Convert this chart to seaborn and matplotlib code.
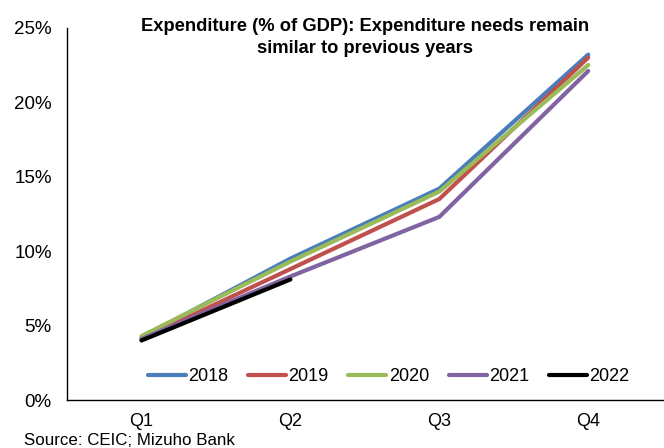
import matplotlib
matplotlib.use("Agg")
import matplotlib.pyplot as plt
import seaborn as sns
import pandas as pd
import numpy as np
from matplotlib.ticker import FuncFormatter, FixedLocator

quarters = ["Q1", "Q2", "Q3", "Q4"]
y2018 = [4.2, 9.5, 14.2, 23.2]
y2019 = [4.1, 8.8, 13.5, 23.0]
y2020 = [4.3, 9.3, 14.0, 22.5]
y2021 = [4.1, 8.3, 12.3, 22.1]
y2022 = [4.0, 8.1]
years = ["2018", "2019", "2020", "2021", "2022"]
colors = ["#4a7ebb", "#c0504d", "#9bbb59", "#8064a2", "#000000"]

rows = []
for yr, vals in zip(years, [y2018, y2019, y2020, y2021, y2022]):
    for i, v in enumerate(vals):
        rows.append({"Quarter": i, "Value": v, "Year": yr})
df = pd.DataFrame(rows)

sns.set_style("white")
plt.rcParams['font.family'] = ['Liberation Sans', 'DejaVu Sans']
plt.rcParams['text.color'] = 'black'
plt.rcParams['xtick.color'] = 'black'
plt.rcParams['ytick.color'] = 'black'

fig = plt.figure(figsize=(6.64, 4.48), dpi=100)
ax = fig.add_axes([0.101, 0.107, 0.897, 0.831])

sns.lineplot(data=df, x="Quarter", y="Value", hue="Year", palette=colors,
             linewidth=3, ax=ax, legend=True)

ax.set_xlim(-0.5, 3.5)
ax.set_ylim(0, 25)
ax.set_yticks([0, 5, 10, 15, 20, 25])
ax.yaxis.set_major_formatter(FuncFormatter(lambda v, p: f"{v:.0f}%"))
ax.xaxis.set_major_locator(FixedLocator([-0.5, 0.5, 1.5, 2.5, 3.5]))
ax.xaxis.set_major_formatter(FuncFormatter(lambda v, p: ""))
ax.xaxis.set_minor_locator(FixedLocator([0, 1, 2, 3]))
ax.set_xticklabels(quarters, minor=True)
ax.tick_params(axis="x", which="major", direction="out", length=4, width=1, color="black")
ax.tick_params(axis="x", which="minor", length=0, labelsize=13, pad=9)
ax.tick_params(axis="y", direction="out", length=4, width=1, color="black", labelsize=13.5, pad=7)
ax.set_xlabel("")
ax.set_ylabel("")
for s in ["top", "right"]:
    ax.spines[s].set_visible(False)
for s in ["left", "bottom"]:
    ax.spines[s].set_color("black")
    ax.spines[s].set_linewidth(1)

leg = ax.legend(loc="center", bbox_to_anchor=(0.54, 0.062), ncol=5, frameon=False,
                fontsize=13, handlelength=2.1, handletextpad=0.15, columnspacing=1.08)
for h in leg.get_lines():
    h.set_linewidth(3)

ax.set_title("Expenditure (% of GDP): Expenditure needs remain\nsimilar to previous years",
             fontsize=13.2, fontweight="bold", x=0.5, y=0.91, linespacing=1.4)

fig.text(0.036, 0.0, "Source: CEIC; Mizuho Bank", fontsize=12.2, ha="left", va="bottom")

fig.savefig("out.png", dpi=100)
